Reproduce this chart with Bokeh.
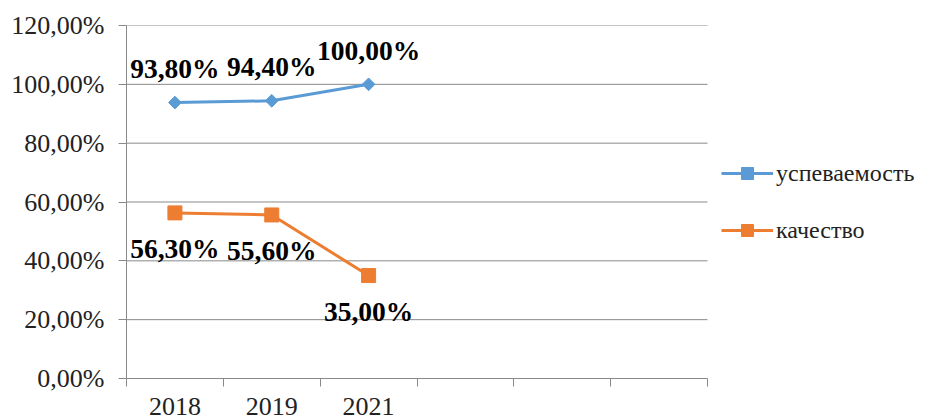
import numpy as np
from bokeh.plotting import figure
from bokeh.models import (Range1d, FixedTicker, CustomJSTickFormatter, ColumnDataSource,
                          LabelSet, Legend, LegendItem)
from bokeh.embed import file_html
from bokeh.resources import INLINE

# ---- data ----
years = ["2018", "2019", "2021"]
n_slots = 6
uspevaemost = [93.8, 94.4, 100.0]
kachestvo = [56.3, 55.6, 35.0]
y_ticks = [0, 20, 40, 60, 80, 100, 120]
series_names = ["успеваемость", "качество"]

BLUE = "#5B9BD5"
ORANGE = "#ED7D31"
GRID = "#898989"
FONT = "Liberation Serif"

def fmt(v):
    return f"{v:.2f}".replace(".", ",") + "%"

xs = [i + 0.5 for i in range(len(years))]
src_u = ColumnDataSource(dict(x=xs, y=uspevaemost, lbl=[fmt(v) for v in uspevaemost]))
src_k = ColumnDataSource(dict(x=xs, y=kachestvo, lbl=[fmt(v) for v in kachestvo]))

# layout (pixels)
W, H = 930, 419
LEFT, TOP, BOTTOM = 126, 25, 41
FW = 581                      # width of the chart's plotting area
frame_w = W - LEFT            # frame extends to the right edge to host the legend
x_end = n_slots * frame_w / FW

p = figure(width=W, height=H, output_backend="svg", toolbar_location=None,
           x_range=Range1d(0, x_end), y_range=Range1d(0, 120),
           min_border_left=LEFT, min_border_right=0, min_border_top=TOP, min_border_bottom=BOTTOM)
p.outline_line_color = None
p.background_fill_color = "white"
p.border_fill_color = "white"
p.xgrid.visible = False
p.ygrid.visible = False

# horizontal gridlines limited to the category slots
p.segment(x0=[0] * len(y_ticks), x1=[n_slots] * len(y_ticks), y0=y_ticks, y1=y_ticks,
          line_color=GRID, line_width=1)

yax = p.yaxis[0]
yax.ticker = FixedTicker(ticks=y_ticks)
yax.formatter = CustomJSTickFormatter(code='return tick.toFixed(2).replace(".", ",") + "%";')
yax.axis_line_color = GRID
yax.major_tick_line_color = GRID
yax.major_tick_out = 8
yax.major_tick_in = 0
yax.minor_tick_line_color = None
yax.major_label_text_font = FONT
yax.major_label_text_font_size = "26px"
yax.major_label_text_color = "#222222"
yax.major_label_standoff = 14

xax = p.xaxis[0]
xax.bounds = (0, n_slots)
xax.ticker = FixedTicker(ticks=xs, minor_ticks=list(range(n_slots + 1)))
xax.formatter = CustomJSTickFormatter(args=dict(labels=years),
    code='const i = Math.floor(tick); return (i >= 0 && i < labels.length) ? labels[i] : "";')
xax.axis_line_color = GRID
xax.major_tick_line_color = None
xax.major_tick_out = 0
xax.major_tick_in = 0
xax.minor_tick_line_color = GRID
xax.minor_tick_out = 8
xax.minor_tick_in = 0
xax.major_label_text_font = FONT
xax.major_label_text_font_size = "26px"
xax.major_label_text_color = "#222222"
xax.major_label_standoff = 11

# series
lu = p.line("x", "y", source=src_u, line_color=BLUE, line_width=3)
mu = p.scatter("x", "y", source=src_u, marker="square", angle=np.pi / 4, size=9,
               fill_color=BLUE, line_color=BLUE)
lk = p.line("x", "y", source=src_k, line_color=ORANGE, line_width=3)
mk = p.scatter("x", "y", source=src_k, marker="square", size=14,
               fill_color=ORANGE, line_color=ORANGE)

# data labels
for src, off in ((src_u, 34), (src_k, -36)):
    p.add_layout(LabelSet(x="x", y="y", text="lbl", source=src, y_offset=off,
                          text_align="center", text_baseline="middle",
                          text_font=FONT, text_font_size="27.5px", text_font_style="bold",
                          text_color="black"))

legend = Legend(items=[LegendItem(label=series_names[0], renderers=[lu, mu]),
                       LegendItem(label=series_names[1], renderers=[lk, mk])],
                location=(FW + 4, 123), orientation="vertical",
                glyph_width=52, glyph_height=30, label_height=30, spacing=27,
                label_standoff=3, padding=10, margin=0,
                label_text_font=FONT, label_text_font_size="24px", label_text_color="#222222",
                border_line_alpha=0, background_fill_alpha=0)
p.add_layout(legend, "center")

open("out.html", "w").write(file_html(p, INLINE))
